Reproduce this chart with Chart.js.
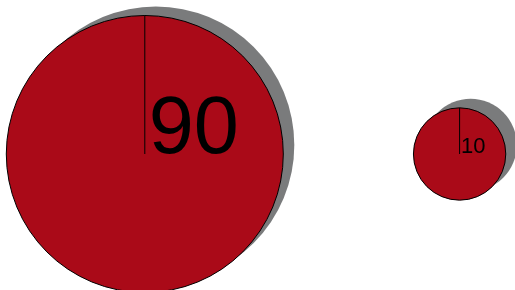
<!DOCTYPE html>
<html>
<head>
<meta charset="utf-8">
<script src="https://cdn.jsdelivr.net/npm/chart.js@4"></script>
<style>
  html, body { margin: 0; padding: 0; background: #fff; }
  #wrap { width: 515px; height: 290px; position: relative; }
</style>
</head>
<body>
<div id="wrap"><canvas id="chartBubbles"></canvas></div>
<script>
(function () {
  "use strict";

  // data
  const categories = ["A", "B"];
  const values = [90, 10];

  const RED = "#aa0a18";
  const SHADOW = "#7a7b7c";
  const PX_PER_SQRT = 14.6; // bubble radius per sqrt(value)

  const points = categories.map((c, i) => ({
    x: i,
    y: 0,
    r: PX_PER_SQRT * Math.sqrt(values[i])
  }));

  // grey shadow disc behind each bubble, offset up-right
  const shadowPlugin = {
    id: "bubbleShadow",
    beforeDatasetsDraw(chart) {
      const ctx = chart.ctx;
      const meta = chart.getDatasetMeta(0);
      ctx.save();
      ctx.fillStyle = SHADOW;
      meta.data.forEach((pt) => {
        const r = pt.options.radius;
        ctx.beginPath();
        ctx.arc(pt.x + 11, pt.y - 9, r, 0, Math.PI * 2);
        ctx.fill();
      });
      ctx.restore();
    }
  };

  // radius line from centre to top + value label
  const labelPlugin = {
    id: "bubbleLabels",
    afterDatasetsDraw(chart) {
      const ctx = chart.ctx;
      const meta = chart.getDatasetMeta(0);
      meta.data.forEach((pt, i) => {
        const r = pt.options.radius;
        ctx.save();
        ctx.strokeStyle = "#000";
        ctx.lineWidth = 1;
        ctx.beginPath();
        ctx.moveTo(pt.x, pt.y - r);
        ctx.lineTo(pt.x, pt.y);
        ctx.stroke();

        const size = Math.round(0.64 * r - 8);
        ctx.fillStyle = "#000";
        ctx.font = size + "px 'Liberation Sans', Arial, Helvetica, sans-serif";
        ctx.textAlign = "left";
        ctx.textBaseline = "alphabetic";
        ctx.fillText(String(values[i]), pt.x + 4 * (r / 138), pt.y - 1);
        ctx.restore();
      });
    }
  };

  new Chart(document.getElementById("chartBubbles"), {
    type: "bubble",
    data: {
      labels: categories,
      datasets: [{
        data: points,
        backgroundColor: RED,
        borderColor: "#000",
        borderWidth: 1,
        hoverBorderWidth: 1,
        clip: false
      }]
    },
    options: {
      responsive: true,
      maintainAspectRatio: false,
      animation: false,
      layout: { autoPadding: false, padding: { top: 18, left: 0, right: 0, bottom: 0 } },
      scales: {
        x: { type: "linear", display: false, min: -0.46, max: 1.176 },
        y: { type: "linear", display: false, min: -1, max: 1 }
      },
      plugins: {
        legend: { display: false },
        tooltip: { enabled: false }
      }
    },
    plugins: [shadowPlugin, labelPlugin]
  });
})();
</script>
</body>
</html>
